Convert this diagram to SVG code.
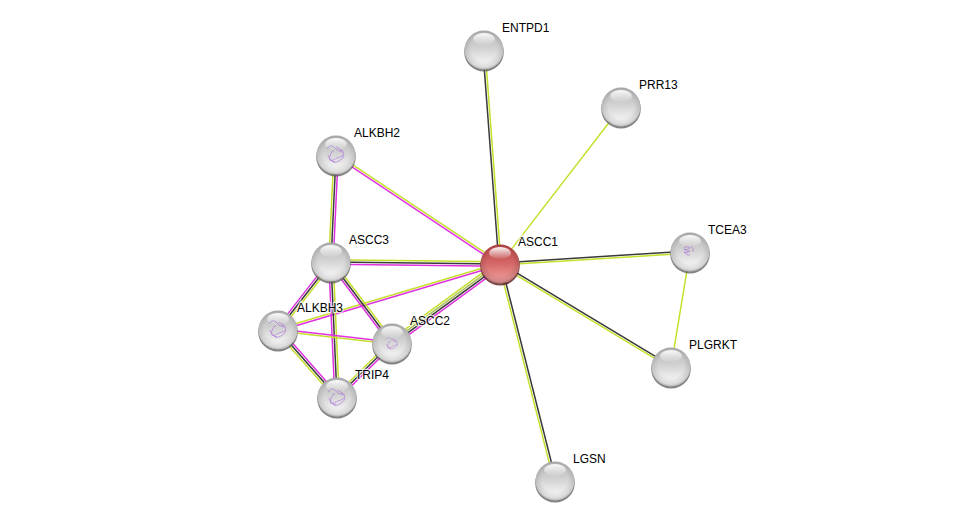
<svg xmlns="http://www.w3.org/2000/svg" width="976" height="526" viewBox="0 0 976 526">
<defs>
<linearGradient id="gGray" x1="0" y1="0" x2="0" y2="1">
<stop offset="0" stop-color="#b4b4b4"/>
<stop offset="0.45" stop-color="#d2d2d2"/>
<stop offset="0.85" stop-color="#f4f4f4"/>
<stop offset="1" stop-color="#fafafa"/>
</linearGradient>
<linearGradient id="gRed" x1="0" y1="0" x2="0" y2="1">
<stop offset="0" stop-color="#b84444"/>
<stop offset="0.45" stop-color="#d26464"/>
<stop offset="0.85" stop-color="#ee9494"/>
<stop offset="1" stop-color="#f4a0a0"/>
</linearGradient>
<radialGradient id="gEdge" cx="50%" cy="45%" r="55%">
<stop offset="0.6" stop-color="#000" stop-opacity="0"/>
<stop offset="0.9" stop-color="#000" stop-opacity="0.12"/>
<stop offset="1" stop-color="#000" stop-opacity="0.3"/>
</radialGradient>
<linearGradient id="gHi" x1="0" y1="0" x2="0" y2="1">
<stop offset="0" stop-color="#ffffff" stop-opacity="0.95"/>
<stop offset="1" stop-color="#ffffff" stop-opacity="0.05"/>
</linearGradient>
<g id="ballGray">
<circle cx="0" cy="1.8" r="19.8" fill="#5a5a5a" fill-opacity="0.75"/>
<circle r="19.5" fill="url(#gGray)"/>
<circle r="19.5" fill="url(#gEdge)"/>
<ellipse cx="0" cy="-11" rx="11" ry="6" fill="url(#gHi)"/>
</g>
<g id="ballRed">
<circle cx="0" cy="1.8" r="19.8" fill="#5a1a1a" fill-opacity="0.8"/>
<circle r="19.5" fill="url(#gRed)"/>
<circle r="19.5" fill="url(#gEdge)"/>
<ellipse cx="0" cy="-11" rx="11" ry="6" fill="url(#gHi)"/>
</g>
<path id="struct" d="M-9,-6 q4,-6 8,-1 t7,2 q4,5 -2,7 t-7,3 q-5,2 -3,-4 t4,-5 M-5,5 q3,4 8,1 t5,-6 M-8,0 q2,6 7,7 M0,-8 q5,1 6,6" fill="none" stroke="#a86cd8" stroke-width="0.8" stroke-opacity="0.75"/>
</defs>
<style>
.y{stroke:#c6df2c;stroke-width:1.5;fill:none}
.k{stroke:#3a3a3a;stroke-width:1.5;fill:none}
.m{stroke:#e030e0;stroke-width:1.5;fill:none}
.o{stroke:#a9bf58;stroke-width:1.5;fill:none}
.lbl{font-family:"Liberation Sans",Arial,sans-serif;font-size:12px;fill:#000;stroke:#fff;stroke-width:2.5;stroke-opacity:0.7;paint-order:stroke}
</style>
<rect width="976" height="526" fill="#ffffff"/>
<g id="edges">
<g transform="translate(500,264) rotate(-94.28)"><line class="k" x1="0" y1="-1.1" x2="214.6" y2="-1.1"/><line class="y" x1="0" y1="1.1" x2="214.6" y2="1.1"/></g>
<g transform="translate(500,264) rotate(-52.38)"><line class="y" x1="0" y1="0" x2="198.2" y2="0"/></g>
<g transform="translate(500,264) rotate(-3.61)"><line class="k" x1="0" y1="-1.1" x2="190.4" y2="-1.1"/><line class="y" x1="0" y1="1.1" x2="190.4" y2="1.1"/></g>
<g transform="translate(500,264) rotate(31.06)"><line class="k" x1="0" y1="-1.1" x2="199.6" y2="-1.1"/><line class="y" x1="0" y1="1.1" x2="199.6" y2="1.1"/></g>
<g transform="translate(500,264) rotate(75.78)"><line class="k" x1="0" y1="-1.1" x2="223.9" y2="-1.1"/><line class="y" x1="0" y1="1.1" x2="223.9" y2="1.1"/></g>
<g transform="translate(690,252) rotate(99.38)"><line class="y" x1="0" y1="0" x2="116.6" y2="0"/></g>
<g transform="translate(500,264) rotate(-146.39)"><line class="y" x1="0" y1="1.1" x2="196.9" y2="1.1"/><line class="m" x1="0" y1="-1.1" x2="196.9" y2="-1.1"/></g>
<g transform="translate(500,264) rotate(-179.32)"><line class="y" x1="0" y1="2.2" x2="169" y2="2.2"/><line class="k" x1="0" y1="0" x2="169" y2="0"/><line class="m" x1="0" y1="-2.2" x2="169" y2="-2.2"/></g>
<g transform="translate(500,264) rotate(163.44)"><line class="y" x1="0" y1="1.1" x2="231.6" y2="1.1"/><line class="m" x1="0" y1="-1.1" x2="231.6" y2="-1.1"/></g>
<g transform="translate(500,264) rotate(143.81)"><line class="y" x1="0" y1="3.3" x2="133.8" y2="3.3"/><line class="o" x1="0" y1="1.1" x2="133.8" y2="1.1"/><line class="k" x1="0" y1="-1.1" x2="133.8" y2="-1.1"/><line class="m" x1="0" y1="-3.3" x2="133.8" y2="-3.3"/></g>
<g transform="translate(336,155) rotate(92.68)"><line class="y" x1="0" y1="2.2" x2="107.1" y2="2.2"/><line class="k" x1="0" y1="0" x2="107.1" y2="0"/><line class="m" x1="0" y1="-2.2" x2="107.1" y2="-2.2"/></g>
<g transform="translate(331,262) rotate(127.94)"><line class="m" x1="0" y1="2.2" x2="86.2" y2="2.2"/><line class="k" x1="0" y1="0" x2="86.2" y2="0"/><line class="y" x1="0" y1="-2.2" x2="86.2" y2="-2.2"/></g>
<g transform="translate(331,262) rotate(87.46)"><line class="m" x1="0" y1="2.2" x2="135.1" y2="2.2"/><line class="k" x1="0" y1="0" x2="135.1" y2="0"/><line class="y" x1="0" y1="-2.2" x2="135.1" y2="-2.2"/></g>
<g transform="translate(331,262) rotate(53.01)"><line class="m" x1="0" y1="2.2" x2="101.4" y2="2.2"/><line class="k" x1="0" y1="0" x2="101.4" y2="0"/><line class="y" x1="0" y1="-2.2" x2="101.4" y2="-2.2"/></g>
<g transform="translate(278,330) rotate(6.51)"><line class="m" x1="0" y1="-1.1" x2="114.7" y2="-1.1"/><line class="y" x1="0" y1="1.1" x2="114.7" y2="1.1"/></g>
<g transform="translate(278,330) rotate(48.63)"><line class="m" x1="0" y1="-2.2" x2="89.3" y2="-2.2"/><line class="k" x1="0" y1="0" x2="89.3" y2="0"/><line class="y" x1="0" y1="2.2" x2="89.3" y2="2.2"/></g>
<g transform="translate(392,343) rotate(135.52)"><line class="y" x1="0" y1="2.2" x2="77.1" y2="2.2"/><line class="k" x1="0" y1="0" x2="77.1" y2="0"/><line class="m" x1="0" y1="-2.2" x2="77.1" y2="-2.2"/></g>
</g>
<g id="node-ENTPD1"><use href="#ballGray" x="484" y="50"/><text class="lbl" x="502" y="32">ENTPD1</text></g>
<g id="node-PRR13"><use href="#ballGray" x="621" y="107"/><text class="lbl" x="639" y="89">PRR13</text></g>
<g id="node-ALKBH2"><use href="#ballGray" x="336" y="155"/><use href="#struct" x="336" y="155"/><text class="lbl" x="354" y="137">ALKBH2</text></g>
<g id="node-ASCC3"><use href="#ballGray" x="331" y="262"/><text class="lbl" x="349" y="244">ASCC3</text></g>
<g id="node-TCEA3"><use href="#ballGray" x="690" y="252"/><path d="M684,248 q3,-3 6,0 q-3,3 -6,1 q3,4 6,2 q-3,3 -6,1 q3,4 6,3 M691,246 q3,2 2,6" fill="none" stroke="#a86cd8" stroke-width="0.8" stroke-opacity="0.75"/><text class="lbl" x="708" y="234">TCEA3</text></g>
<g id="node-ALKBH3"><use href="#ballGray" x="278" y="330"/><use href="#struct" x="278" y="330"/><text class="lbl" x="297" y="312">ALKBH3</text></g>
<g id="node-ASCC2"><use href="#ballGray" x="392" y="343"/><use href="#struct" x="392" y="344" transform="translate(392 344) scale(0.7) translate(-392 -344)"/><text class="lbl" x="410" y="325">ASCC2</text></g>
<g id="node-TRIP4"><use href="#ballGray" x="337" y="397"/><use href="#struct" x="337" y="398"/><text class="lbl" x="355" y="379">TRIP4</text></g>
<g id="node-PLGRKT"><use href="#ballGray" x="671" y="367"/><text class="lbl" x="689" y="349">PLGRKT</text></g>
<g id="node-LGSN"><use href="#ballGray" x="555" y="481"/><text class="lbl" x="573" y="463">LGSN</text></g>
<g id="node-ASCC1"><use href="#ballRed" x="500" y="264"/><text class="lbl" x="518" y="246">ASCC1</text></g>
</svg>
